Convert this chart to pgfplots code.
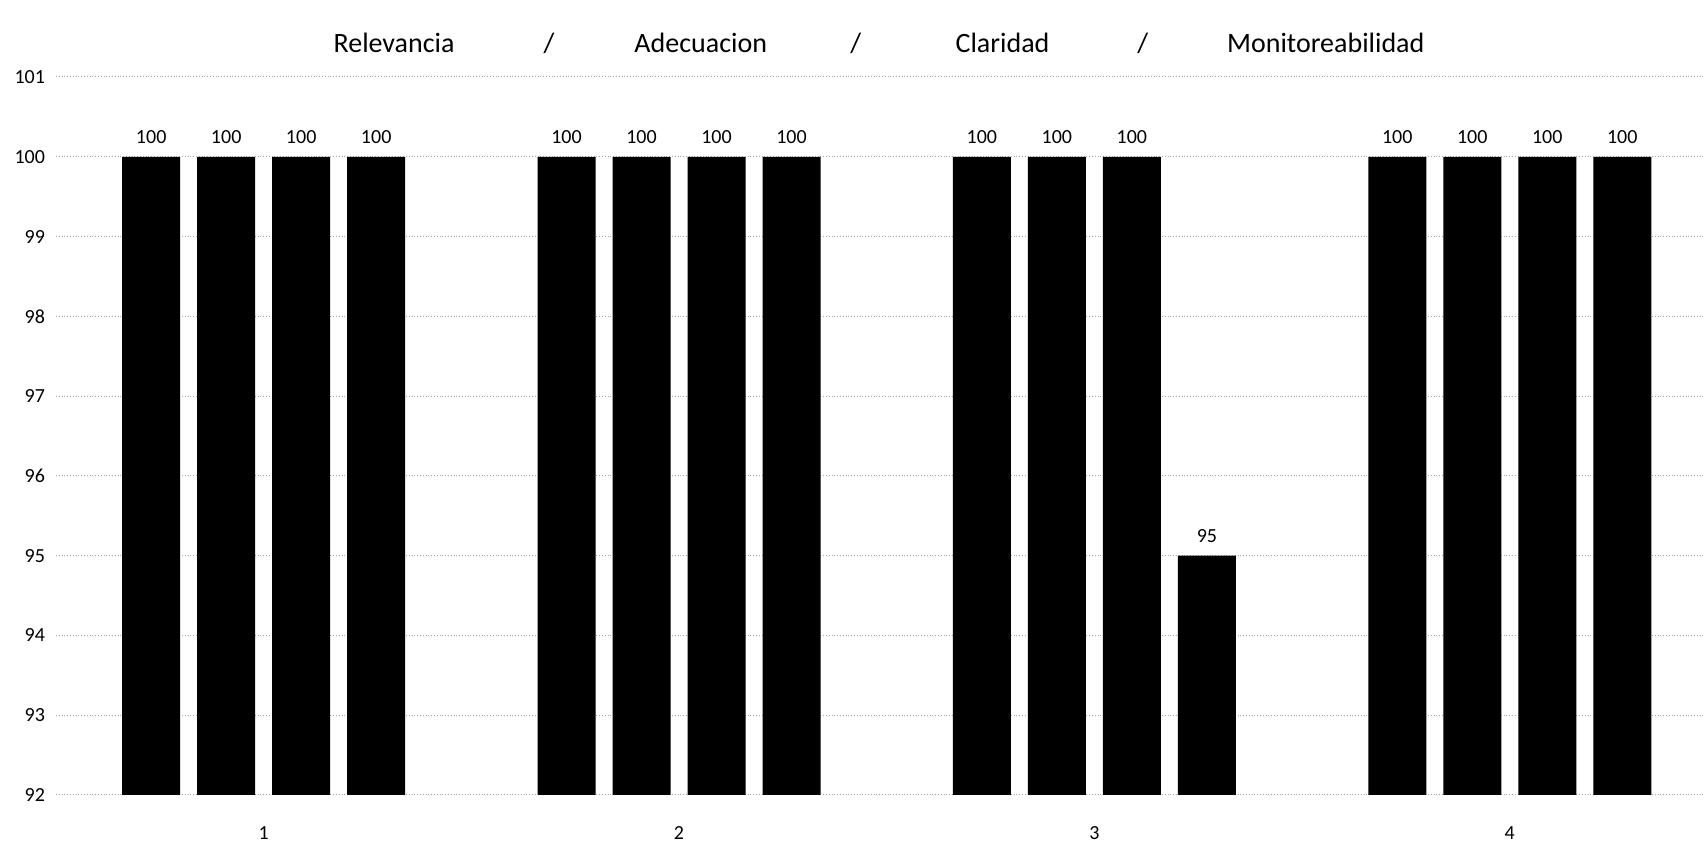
\documentclass[border=0pt]{standalone}
\usepackage{pgfplots}
\pgfplotsset{compat=1.18}
\usepackage{fontspec}
\setmainfont{Carlito}
\begin{document}
\begin{tikzpicture}
\begin{axis}[
    name=ax,
    scale only axis,
    width=824.5pt, height=359pt,
    xmin=0.5, xmax=4.47,
    ymin=92, ymax=101,
    enlargelimits=false,
    ybar=8.5pt,
    bar width=29pt,
    xtick={1,2,3,4},
    ytick={92,93,...,101},
    axis line style={draw=none},
    tick style={draw=none},
    ymajorgrids,
    major grid style={gray!70, densely dotted, line width=0.5pt},
    /pgf/number format/assume math mode=true,
    ticklabel style={font=\fontsize{10}{12}\selectfont},
    yticklabel style={xshift=-2pt},
    xticklabel style={yshift=-8pt},
    nodes near coords,
    every node near coord/.append style={font=\fontsize{10}{12}\selectfont, yshift=3pt},
    clip=false,
]
% Relevancia / Adecuacion / Claridad / Monitoreabilidad
\addplot[fill=black, draw=none] coordinates {(1,100) (2,100) (3,100) (4,100)};
\addplot[fill=black, draw=none] coordinates {(1,100) (2,100) (3,100) (4,100)};
\addplot[fill=black, draw=none] coordinates {(1,100) (2,100) (3,100) (4,100)};
\addplot[fill=black, draw=none] coordinates {(1,100) (2,100) (3,95) (4,100)};
\end{axis}
\begin{scope}[every node/.style={font=\fontsize{14}{16}\selectfont, anchor=base}]
\node at ([shift={(0.205*824.5pt, 12pt)}]ax.north west) {Relevancia};
\node at ([shift={(0.299*824.5pt, 12pt)}]ax.north west) {/};
\node at ([shift={(0.391*824.5pt, 12pt)}]ax.north west) {Adecuacion};
\node at ([shift={(0.485*824.5pt, 12pt)}]ax.north west) {/};
\node at ([shift={(0.574*824.5pt, 12pt)}]ax.north west) {Claridad};
\node at ([shift={(0.659*824.5pt, 12pt)}]ax.north west) {/};
\node at ([shift={(0.770*824.5pt, 12pt)}]ax.north west) {Monitoreabilidad};
\end{scope}
\pgfresetboundingbox
\path ([shift={(-28pt,-35.5pt)}]ax.south west) rectangle ([shift={(0pt,38.5pt)}]ax.north east);
\end{tikzpicture}
\end{document}
